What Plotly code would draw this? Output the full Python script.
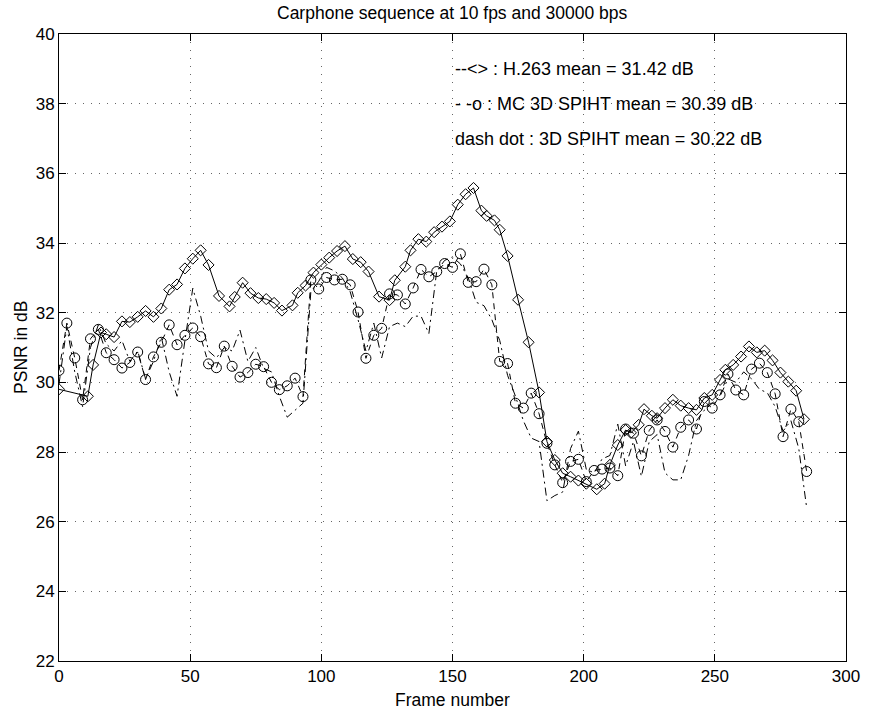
import plotly.graph_objects as go

# ---- data ----
h263_frames = [0, 11, 13, 16, 18, 21, 24, 27, 30, 33, 36, 39, 42, 45, 48, 51, 54, 57, 61, 65,
               67, 70, 73, 76, 79, 82, 85, 89, 91, 94, 97, 100, 103, 106, 109, 112, 115, 118,
               122, 126, 128, 132, 134, 137, 140, 143, 146, 149, 152, 155, 158, 161, 163, 166,
               168, 171, 175, 179, 183, 186, 189, 192, 195, 198, 201, 205, 208, 210, 213, 216,
               218, 221, 223, 226, 228, 231, 234, 237, 240, 243, 246, 249, 252, 254, 257, 260,
               263, 266, 269, 272, 275, 278, 281, 284]
h263_psnr = [29.80, 29.60, 30.50, 31.43, 31.38, 31.30, 31.75, 31.73, 31.88, 32.05, 31.88, 32.12,
             32.66, 32.81, 33.27, 33.55, 33.79, 33.37, 32.48, 32.18, 32.45, 32.86, 32.56, 32.42,
             32.39, 32.28, 32.06, 32.21, 32.57, 32.78, 33.15, 33.38, 33.58, 33.77, 33.91, 33.54,
             33.45, 33.18, 32.46, 32.36, 32.93, 33.32, 33.79, 34.11, 34.04, 34.31, 34.47, 34.62,
             35.10, 35.40, 35.58, 34.93, 34.78, 34.65, 34.38, 33.63, 32.37, 31.15, 29.71, 28.30,
             27.77, 27.39, 27.29, 27.18, 27.09, 26.93, 27.09, 27.63, 28.20, 28.63, 28.55, 28.78,
             29.23, 29.04, 28.97, 29.26, 29.50, 29.33, 29.26, 29.21, 29.55, 29.64, 30.07, 30.36,
             30.50, 30.74, 31.03, 30.86, 30.91, 30.63, 30.28, 30.02, 29.76, 28.94]

frames = list(range(0, 286, 3))
mc3d_psnr = [30.34, 31.70, 30.70, 29.50, 31.25, 31.52, 30.85, 30.65, 30.41, 30.57, 30.87, 30.08,
             30.73, 31.15, 31.65, 31.08, 31.35, 31.56, 31.31, 30.53, 30.42, 31.04, 30.46, 30.15,
             30.28, 30.52, 30.45, 30.00, 29.79, 29.90, 30.12, 29.59, 32.94, 32.68, 33.01, 32.94,
             32.96, 32.80, 32.02, 30.69, 31.35, 31.55, 32.54, 32.51, 32.25, 32.71, 33.24, 33.03,
             33.18, 33.41, 33.30, 33.69, 32.87, 32.89, 33.25, 32.80, 30.60, 30.54, 29.40, 29.26,
             29.69, 29.10, 28.25, 27.63, 27.12, 27.73, 27.79, 27.15, 27.47, 27.51, 27.54, 27.32,
             28.66, 28.54, 27.89, 28.62, 28.92, 28.59, 28.14, 28.71, 28.92, 28.66, 29.45, 29.26,
             29.64, 30.24, 29.78, 29.64, 30.38, 30.55, 30.28, 29.67, 28.44, 29.23, 28.87, 27.44]
spiht3d_psnr = [29.95, 31.60, 30.30, 29.30, 31.00, 31.65, 31.10, 30.90, 31.20, 30.60, 30.90, 30.10,
                30.60, 31.30, 30.30, 29.60, 31.20, 32.70, 31.90, 30.90, 30.70, 31.00, 30.90, 31.50,
                30.60, 31.00, 30.40, 30.30, 29.60, 29.00, 29.20, 29.40, 32.60, 32.90, 33.30, 33.20,
                33.00, 32.60, 31.80, 30.90, 31.70, 30.70, 31.60, 31.70, 31.60, 31.90, 31.90, 31.40,
                33.20, 33.50, 33.60, 33.40, 33.00, 32.30, 32.20, 31.80, 31.20, 30.20, 29.60, 28.90,
                28.40, 28.30, 26.60, 26.75, 26.85, 28.10, 28.60, 27.50, 27.40, 27.80, 27.90, 28.80,
                27.60, 28.30, 27.30, 28.30, 28.50, 27.40, 27.20, 27.20, 27.90, 28.90, 29.20, 29.40,
                29.60, 30.10, 30.00, 30.30, 30.10, 29.80, 29.70, 29.30, 28.60, 28.90, 28.10, 26.40]

legend_lines = ["--<> : H.263 mean = 31.42 dB",
                "- -o : MC 3D SPIHT mean = 30.39 dB",
                "dash dot : 3D SPIHT mean = 30.22 dB"]
legend_y = [39, 38, 37]
legend_x = 150

title_text = "Carphone sequence at 10 fps and 30000 bps"
x_title = "Frame number"
y_title = "PSNR in dB"
x_ticks = [0, 50, 100, 150, 200, 250, 300]
y_ticks = [22, 24, 26, 28, 30, 32, 34, 36, 38, 40]

FONT = "Liberation Sans, Arial, Helvetica, sans-serif"

fig = go.Figure()
fig.add_trace(go.Scatter(
    x=frames, y=spiht3d_psnr, mode="lines",
    line=dict(color="black", width=1, dash="8px,4px,2px,4px"),
    showlegend=False))
fig.add_trace(go.Scatter(
    x=frames, y=mc3d_psnr, mode="lines+markers",
    line=dict(color="black", width=1, dash="6px,5px"),
    marker=dict(symbol="circle-open", size=10, color="black", line=dict(width=1, color="black")),
    showlegend=False))
fig.add_trace(go.Scatter(
    x=h263_frames, y=h263_psnr, mode="lines+markers",
    line=dict(color="black", width=1),
    marker=dict(symbol="diamond-open", size=8.5, color="black", line=dict(width=1, color="black")),
    showlegend=False))

annotations = []
for txt, yy in zip(legend_lines, legend_y):
    annotations.append(dict(x=legend_x, y=yy, xref="x", yref="y", text=txt, showarrow=False,
                            xanchor="left", yanchor="middle",
                            font=dict(family=FONT, size=18, color="black")))
annotations.append(dict(x=0.5, y=1.034, xref="paper", yref="paper", text=title_text,
                        showarrow=False, xanchor="center", yanchor="middle",
                        font=dict(family=FONT, size=17.5, color="black")))
annotations.append(dict(x=0.5, y=-0.062, xref="paper", yref="paper", text=x_title,
                        showarrow=False, xanchor="center", yanchor="middle",
                        font=dict(family=FONT, size=17.5, color="black")))
annotations.append(dict(x=-0.049, y=0.5, xref="paper", yref="paper", text=y_title,
                        showarrow=False, xanchor="center", yanchor="middle", textangle=-90,
                        font=dict(family=FONT, size=17.5, color="black")))

axis_common = dict(
    showline=True, linecolor="black", linewidth=1, mirror="ticks",
    ticks="inside", ticklen=7, tickwidth=1, tickcolor="black",
    showgrid=True, gridcolor="#666666", gridwidth=1, griddash="1px,7px",
    zeroline=False, tickfont=dict(family=FONT, size=17, color="black"),
)

fig.update_layout(
    width=872, height=713,
    margin=dict(l=59, r=19, t=34, b=52),
    paper_bgcolor="white", plot_bgcolor="white",
    xaxis=dict(range=[0, 300], tickvals=x_ticks, **axis_common),
    yaxis=dict(range=[22, 40], tickvals=y_ticks, **axis_common),
    annotations=annotations,
    showlegend=False,
)

fig.write_html("out.html")
